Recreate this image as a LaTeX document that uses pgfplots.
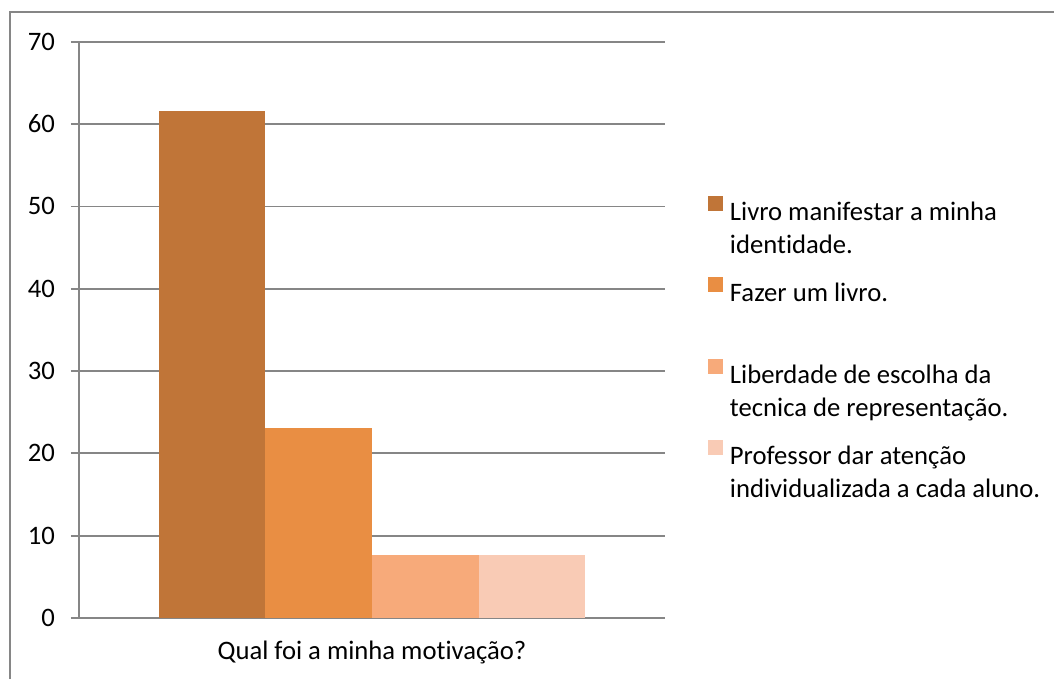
\documentclass[border=0pt]{standalone}
\usepackage{pgfplots}
\pgfplotsset{compat=1.18}
\usepackage{fontspec}
\setmainfont{Carlito}[Ligatures=NoCommon]
\definecolor{c1}{RGB}{192,117,56}
\definecolor{c2}{RGB}{233,142,67}
\definecolor{c3}{RGB}{247,170,122}
\definecolor{c4}{RGB}{249,203,181}
\definecolor{gridc}{RGB}{134,134,134}
\begin{document}
\begin{tikzpicture}
\useasboundingbox (0pt,0pt) rectangle (790.5pt,509.25pt);
\draw[gridc, line width=1.4pt] (7.5pt,0pt) -- (7.5pt,500.25pt) -- (790.5pt,500.25pt);
\begin{axis}[
  at={(59.25pt,45.75pt)}, anchor=south west,
  scale only axis, width=439.5pt, height=432.2pt,
  font=\fontsize{20}{24.75}\selectfont,
  /pgf/number format/assume math mode=true,
  ymin=0, ymax=70, ytick={0,10,...,70},
  xmin=-1, xmax=1,
  axis lines*=left,
  axis line style={gridc, line width=1.4pt, -},
  ymajorgrids, grid style={gridc, line width=1.3pt},
  tick align=outside, major tick length=6pt,
  tick style={gridc, line width=1.3pt},
  xtick={0}, xticklabels={Qual foi a minha motivação?},
  x tick style={draw=none},
  xticklabel style={yshift=-8pt},
  extra x ticks={-1,1}, extra x tick labels={},
  extra x tick style={tick style={draw=gridc, line width=1.3pt}},
  yticklabel style={xshift=-8.5pt},
  ybar, bar width=0.364,
  legend cell align=left,
  legend style={at={(1.0734,0.7324)}, anchor=north west, draw=none, fill=none,
    inner sep=0pt, row sep=41pt, column sep=5pt,
    nodes={inner sep=0pt, align=left}},
  legend image code/.code={\fill[#1, draw=none] (0pt,-0.75pt) rectangle (11.25pt,10.5pt);},
]
\addplot[fill=c1, draw=none, bar shift=-0.546] coordinates {(0,61.54)};
\addplot[fill=c2, draw=none, bar shift=-0.182] coordinates {(0,23.08)};
\addplot[fill=c3, draw=none, bar shift=0.182] coordinates {(0,7.69)};
\addplot[fill=c4, draw=none, bar shift=0.546] coordinates {(0,7.69)};
\legend{{\begin{tabular}[t]{@{}l@{}}Livro manifestar a minha\\identidade.\end{tabular}},
{\begin{tabular}[t]{@{}l@{}}Fazer um livro.\\ \strut\end{tabular}},
{\begin{tabular}[t]{@{}l@{}}Liberdade de escolha da\\tecnica de representação.\end{tabular}},
{\begin{tabular}[t]{@{}l@{}}Professor dar atenção\\individualizada a cada aluno.\end{tabular}}}
\end{axis}
\end{tikzpicture}
\end{document}
